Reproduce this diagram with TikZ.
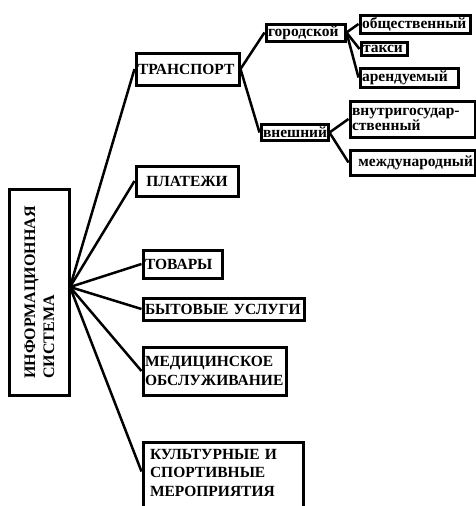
\documentclass[tikz,border=0pt]{standalone}
\usepackage{fontspec}
\setmainfont{Liberation Serif}
\usetikzlibrary{calc}
\newcommand{\diafont}{\fontsize{15.5}{18.5}\selectfont\bfseries}
\tikzset{
  % Box styles
  box/.style={rectangle, draw=black, line width=3pt, fill=white, inner xsep=2pt, inner ysep=0pt, anchor=north west, align=left, font=\diafont, text width=#1},
  box/.default={2cm},
  sysbox/.style={rectangle, draw=black, line width=3pt, fill=white, inner sep=0pt, rotate=90, align=left, font=\fontsize{16}{19}\selectfont\bfseries, minimum width=206pt, minimum height=60pt},
  % Connector style
  link/.style={line width=2.5pt},
}
\begin{document}
\begin{tikzpicture}[x=1pt, y=-1pt]
    \useasboundingbox (0,0) rectangle (476,506);

    % Main system
    \node[sysbox] (sys) at (39.5,292.5) {ИНФОРМАЦИОННАЯ\\СИСТЕМА};
    \coordinate (hub) at (70,287);

    % First level
    \node[box=99pt, minimum height=32pt] (transport) at (134.5,51.5) {ТРАНСПОРТ};
    \node[box=98pt, minimum height=30pt, align=center] (payments) at (134.5,164.5) {ПЛАТЕЖИ};
    \node[box=75pt, minimum height=28pt] (goods) at (141.5,248.5) {ТОВАРЫ};
    \node[box=157pt, minimum height=22pt] (services) at (141.5,296.5) {БЫТОВЫЕ~УСЛУГИ};
    \node[box=139pt, minimum height=48pt] (medical) at (141.5,345.5) {МЕДИЦИНСКОЕ\\ОБСЛУЖИВАНИЕ};
    \node[box=146pt, inner xsep=7pt, inner ysep=7pt, text depth=80pt] (culture) at (141.5,440.5) {КУЛЬТУРНЫЕ И\\СПОРТИВНЫЕ\\МЕРОПРИЯТИЯ};

    % Transport kinds
    \node[box=75pt, minimum height=17pt] (city) at (264.5,22.5) {городской};
    \node[box=63pt, minimum height=16pt] (outer) at (259.5,123) {внешний};

    % City transport
    \node[box=106pt, minimum height=18pt] (public) at (358.5,13.5) {общественный};
    \node[box=42pt, minimum height=13pt] (taxi) at (359.5,41) {такси};
    \node[box=94pt, minimum height=19pt] (rent) at (358.5,66.5) {арендуемый};

    % Outer transport
    \node[box=121pt, minimum height=36pt, font=\fontsize{15.5}{15}\selectfont\bfseries] (domestic) at (348.5,99.5) {внутригосудар-\\ственный};
    \node[box=121pt, minimum height=25pt, align=right] (intl) at (348.5,148.5) {международный};

    % Connectors
    \foreach \n in {transport, payments, goods, services, medical}
      \draw[link] (hub) -- (\n.west);
    \draw[link] (hub) -- ($(culture.north west)+(0,31)$);
    \draw[link] (transport.east) -- (city.west);
    \draw[link] (transport.east) -- (outer.west);
    \foreach \n in {public, taxi, rent}
      \draw[link] (city.east) -- (\n.west);
    \draw[link] (outer.east) -- (domestic.west);
    \draw[link] (outer.east) -- (intl.west);
  \end{tikzpicture}
\end{document}
